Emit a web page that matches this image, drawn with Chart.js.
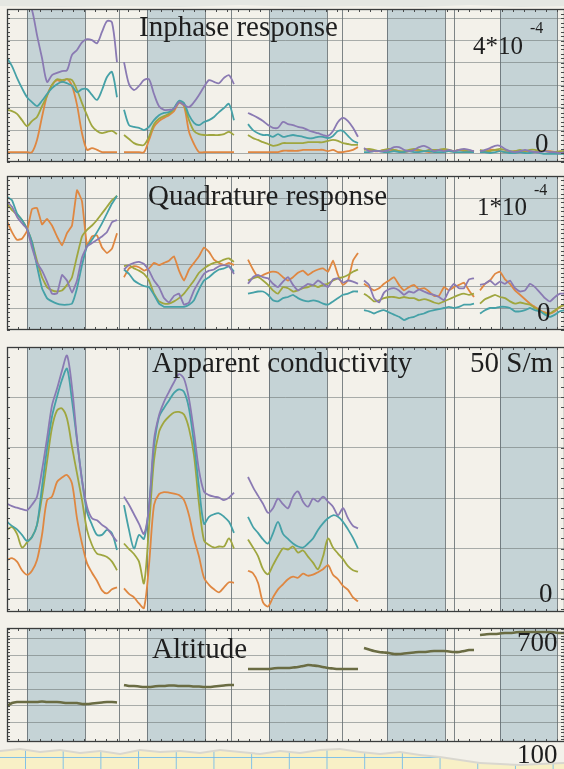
<!DOCTYPE html>
<html>
<head>
<meta charset="utf-8">
<title>Airborne EM profiles</title>
<script src="https://cdn.jsdelivr.net/npm/chart.js@4.4.1/dist/chart.umd.min.js"></script>
<style>
  html, body { margin: 0; padding: 0; }
  body { width: 564px; height: 769px; overflow: hidden; position: relative; background: #f3f1ea;
         font-family: "Liberation Serif", "Times New Roman", serif; }
  #sheet { position: absolute; left: 0; top: 0; width: 564px; height: 769px; }
  #sheet canvas { position: absolute; left: 0; }
  .lbl { position: absolute; line-height: 1; color: #1e1e1e; white-space: nowrap; }
  .sup { position: relative; line-height: 1; }
  #topEdge { position: absolute; left: 0; top: 0; width: 564px; height: 8px; background: #e5e7e2;
             clip-path: polygon(0 0, 564px 0, 564px 6px, 520px 7px, 470px 5px, 420px 7px, 360px 6px, 300px 7px,
             240px 5px, 180px 7px, 120px 6px, 60px 7px, 0 6px); }
  #tornShadow { position: absolute; left: 0; top: 744px; width: 564px; height: 25px; background: #d9d7cf;
             clip-path: polygon(0 6px, 20px 4px, 40px 7px, 60px 5px, 80px 8px, 100px 6px, 120px 9px, 140px 5px,
             160px 7px, 180px 6px, 200px 8px, 220px 5px, 240px 7px, 260px 9px, 280px 6px, 300px 8px, 320px 5px,
             340px 4px, 360px 7px, 380px 9px, 400px 7px, 420px 10px, 440px 12px, 460px 15px, 480px 18px,
             500px 19px, 520px 20px, 540px 19px, 564px 18px, 564px 25px, 0 25px); }
  #tornPaper { position: absolute; left: 0; top: 746px; width: 564px; height: 23px;
             background-color: #f8f0c6;
             background-image: linear-gradient(90deg, rgba(110,185,235,0.85) 1px, transparent 1px),
                               linear-gradient(180deg, rgba(110,185,235,0.85) 1px, transparent 1px);
             background-size: 37.7px 38px, 37.7px 38px;
             background-position: 25px 0, 0 11px;
             clip-path: polygon(0 6px, 20px 4px, 40px 7px, 60px 5px, 80px 8px, 100px 6px, 120px 9px, 140px 5px,
             160px 7px, 180px 6px, 200px 8px, 220px 5px, 240px 7px, 260px 9px, 280px 6px, 300px 8px, 320px 5px,
             340px 4px, 360px 7px, 380px 9px, 400px 7px, 420px 10px, 440px 12px, 460px 15px, 480px 18px,
             500px 19px, 520px 20px, 540px 19px, 564px 18px, 564px 23px, 0 23px); }
</style>
</head>
<body>
<div id="topEdge"></div>
<div id="tornShadow"></div>
<div id="tornPaper"></div>
<div id="sheet"></div>

<div class="lbl" style="left:139px;top:11.7px;font-size:29px">Inphase response</div>
<div class="lbl" style="left:473px;top:33px;font-size:25px">4*10<span class="sup" style="font-size:16px;top:-21px;margin-left:7px">-4</span></div>
<div class="lbl" style="left:535px;top:130px;font-size:27px">0</div>

<div class="lbl" style="left:148px;top:181px;font-size:29px">Quadrature response</div>
<div class="lbl" style="left:477px;top:194px;font-size:25px">1*10<span class="sup" style="font-size:16px;top:-20px;margin-left:7px">-4</span></div>
<div class="lbl" style="left:537px;top:299px;font-size:27px">0</div>

<div class="lbl" style="left:152px;top:348px;font-size:29px">Apparent conductivity</div>
<div class="lbl" style="left:470px;top:348px;font-size:29px">50 S/m</div>
<div class="lbl" style="left:539px;top:580px;font-size:27px">0</div>

<div class="lbl" style="left:152px;top:634px;font-size:29px">Altitude</div>
<div class="lbl" style="left:517px;top:629px;font-size:27px">700</div>
<div class="lbl" style="left:517px;top:741px;font-size:27px">100</div>

<script>
// ---- survey geometry (distance along profile, in fiducials) ----
const lineStart   = [0, 117, 241, 357, 473];   // first fiducial of each of the five flight lines
const sampleStep  = 5;                          // fiducials between samples
const dividers    = [20, 78, 112, 140, 198, 224, 262, 320, 335, 380, 438, 447, 493, 550];
const shadedBlocks = [[20, 78], [140, 198], [262, 320], [380, 438], [493, 550]];

// ---- horizontal grid levels of each panel ----
const inphaseGrid      = [0, 50, 100, 150, 200, 250, 300];   // ppm
const quadratureGrid   = [0, 20, 40, 60, 80, 100];           // ppm
const conductivityGrid = [0, 10, 20, 30, 40];                // S/m
const altitudeGrid     = [200, 300, 400, 500, 600, 700];     // m

// ---- inphase response (ppm), one sub-array per flight line ----
const inphasePurple = [
  [null, null, null, null, 340, 318, 262, 211, 158, 173, 178, 182, 184, 218, 229, 246, 253, 251, 244, 269, 293, 290, 202],
  [202, 153, 140, 149, 162, 164, 131, 104, 96, 96, 98, 113, 107, 102, 113, 129, 147, 162, 158, 155, 167, 173, 153],
  [89, 84, 78, 71, 62, 56, 56, 69, 64, 62, 58, 56, 51, 47, 44, 40, 38, 49, 69, 78, 71, 56, 36],
  [11, 4, 4, 4, 4, 7, 13, 13, 7, 4, 7, 13, 16, 11, 4, 7, 4, 7, 4, 7, 9, 7, 4],
  [4, 7, 11, 16, 16, 9, 4, 2, 4, 7, 4, 2, 2, 4, 2, 2, 0, 2]
];
const inphaseTeal = [
  [211, 193, 167, 144, 124, 113, 104, 116, 131, 144, 153, 158, 155, 149, 135, 142, 142, 129, 118, 140, 169, 180, 124],
  [96, 62, 58, 56, 51, 58, 73, 84, 89, 91, 100, 116, 111, 84, 67, 62, 69, 73, 80, 91, 100, 109, 73],
  [64, 51, 44, 40, 40, 36, 42, 36, 38, 40, 38, 36, 33, 33, 36, 36, 33, 38, 49, 49, 38, 27, 22],
  [2, 2, 4, 4, 2, 2, 4, 2, 2, 4, 2, 2, 4, 4, 2, 2, 2, 4, 2, 2, 2, 2, 2],
  [2, 2, 0, 2, 4, 2, 0, 0, 2, 0, 0, 2, 0, -2, -2, -2, -2, -2]
];
const inphaseOlive = [
  [96, 93, 87, 73, 60, 71, 80, 104, 127, 151, 164, 162, 164, 162, 140, 111, 84, 60, 49, 44, 47, 49, 42],
  [40, 31, 22, 18, 18, 36, 64, 76, 82, 87, 98, 113, 107, 73, 49, 42, 40, 40, 40, 40, 42, 47, 40],
  [40, 33, 29, 24, 20, 16, 18, 22, 22, 22, 22, 22, 24, 24, 24, 24, 27, 29, 27, 22, 20, 18, 18],
  [7, 9, 7, 4, 7, 9, 7, 4, 4, 7, 9, 7, 4, 7, 7, 7, 9, 7, 4, 7, 7, 4, 4],
  [7, 4, 4, 7, 9, 7, 4, 4, 7, 4, 7, 7, 4, 4, 2, 2, 4, 4]
];
const inphaseOrange = [
  [2, 2, 2, 2, 2, 2, 29, 80, 127, 151, 162, 158, 164, 149, 107, 44, 7, 11, 7, 2, 2, 2, 2],
  [2, 2, 2, 2, 2, 29, 58, 71, 78, 84, 93, 111, 104, 47, 20, 2, 2, 2, 2, 2, 2, 2, 2],
  [2, 2, 2, 2, 2, 2, 2, 5, 5, 5, 5, 7, 7, 7, 7, 7, 4, 7, 2, 2, 4, 7, 13],
  [9, 7, 4, 4, 7, 4, 7, 4, 2, 4, 7, 4, 4, 2, 4, 7, 7, 4, 4, 7, 4, 2, 4],
  [4, 4, 7, 7, 4, 2, 2, 4, 4, 4, 2, 2, 4, 4, 4, 2, 2, 2]
];

// ---- quadrature response (ppm) ----
const quadPurple = [
  [97, 92, 83, 77, 72, 55, 41, 34, 24, 13, 13, 30, 25, 14, 25, 46, 56, 59, 62, 65, 69, 78, 80],
  [35, 39, 41, 42, 40, 34, 25, 19, 9, 5, 11, 13, 3, 5, 16, 24, 31, 34, 35, 38, 39, 38, 31],
  [22, 28, 30, 28, 27, 22, 19, 24, 28, 21, 16, 19, 22, 21, 25, 22, 19, 26, 27, 23, 25, 24, 22],
  [25, 21, 9, 5, 14, 17, 18, 16, 12, 15, 14, 17, 15, 13, 12, 10, 7, 16, 22, 18, 18, 26, 27],
  [21, 22, 25, 21, 24, 22, 25, 18, 15, 16, 22, 19, 14, 9, 6, 10, 13, 13]
];
const quadTeal = [
  [101, 98, 86, 80, 72, 60, 38, 18, 9, 6, 4, 3, 3, 4, 18, 39, 56, 62, 69, 77, 86, 95, 102],
  [35, 31, 25, 22, 20, 19, 12, 4, 1, 1, 1, 1, 1, 3, 7, 17, 25, 28, 32, 35, 36, 38, 33],
  [13, 14, 15, 15, 12, 7, 6, 9, 10, 12, 9, 7, 6, 7, 6, 4, 3, 6, 9, 12, 13, 15, 15],
  [-2, -3, -5, -3, -2, -4, -6, -8, -11, -9, -8, -6, -5, -3, -2, -1, 0, 1, 0, 1, 3, 3, 4],
  [-5, -2, 0, 0, 1, 1, 0, -3, -3, -2, 0, -2, -3, -6, -8, -6, -3, -2]
];
const quadOlive = [
  [95, 89, 85, 80, 72, 60, 43, 28, 19, 16, 15, 16, 21, 28, 47, 65, 71, 75, 80, 86, 92, 98, 102],
  [38, 39, 36, 34, 31, 25, 13, 6, 4, 4, 6, 9, 13, 19, 25, 32, 36, 39, 41, 42, 44, 45, 42],
  [25, 27, 28, 25, 21, 16, 13, 19, 18, 15, 16, 18, 19, 21, 19, 21, 22, 25, 27, 28, 30, 33, 35],
  [13, 10, 6, 7, 9, 10, 10, 9, 10, 9, 9, 7, 8, 7, 5, 4, 6, 8, 10, 12, 13, 12, 13],
  [4, 8, 10, 12, 10, 9, 6, 4, 5, 4, 3, 0, -3, -5, -5, -2, 1, 3]
];
const quadOrange = [
  [79, 69, 62, 63, 70, 90, 91, 76, 81, 75, 65, 57, 68, 75, 107, 97, 57, 65, 66, 55, 50, 54, 68],
  [28, 36, 38, 37, 34, 36, 41, 39, 41, 43, 47, 34, 25, 35, 41, 47, 55, 51, 44, 41, 39, 41, 39],
  [44, 35, 28, 30, 32, 33, 32, 28, 25, 28, 32, 34, 30, 33, 35, 36, 33, 43, 30, 21, 25, 43, 50],
  [22, 19, 16, 18, 22, 25, 28, 21, 16, 19, 21, 17, 18, 15, 11, 11, 19, 16, 19, 21, 23, 16, 10],
  [16, 22, 25, 31, 33, 26, 22, 16, 12, 8, 4, 1, -2, -4, -5, -3, 1, 3]
];

// ---- apparent conductivity (S/m); lines 4 and 5 not inverted ----
const condPurple = [
  [18.9, 18.4, 18.1, 17.8, 17.6, 18.7, 20.3, 25.5, 31.8, 38.4, 41.7, 45.3, 48.3, 42.0, 31.8, 23.6, 18.3, 16.0, 15.6, 14.7, 14.0, 12.7, 11.4],
  [20.3, 18.7, 16.8, 14.9, 12.9, 18.3, 31.5, 36.4, 39.1, 41.1, 43.0, 44.6, 43.7, 39.7, 33.1, 25.5, 21.3, 20.6, 20.3, 20.1, 19.6, 20.1, 21.1],
  [24.2, 22.2, 20.5, 18.9, 17.1, 18.0, 19.9, 18.8, 18.0, 20.3, 21.3, 19.3, 18.3, 19.9, 19.3, 20.3, 19.3, 18.3, 16.6, 18.0, 16.0, 14.5, 14.0],
  null,
  null
];
const condTeal = [
  [15.3, 14.5, 13.8, 12.7, 11.5, 12.3, 14.7, 22.2, 29.8, 36.2, 40.1, 43.5, 45.7, 39.4, 31.5, 23.6, 17.3, 14.7, 12.7, 12.7, 13.7, 13.0, 9.7],
  [18.6, 13.7, 10.0, 12.7, 11.9, 18.3, 30.2, 36.1, 37.9, 39.4, 40.9, 41.6, 41.1, 37.8, 30.8, 22.2, 14.9, 16.3, 16.8, 17.0, 16.3, 15.3, 13.1],
  [16.3, 14.3, 13.1, 11.8, 11.0, 13.0, 15.3, 12.9, 11.9, 11.0, 10.4, 10.2, 11.0, 12.0, 13.7, 15.0, 16.0, 16.6, 16.3, 15.3, 13.8, 12.1, 10.0],
  null,
  null
];
const condOlive = [
  [13.7, 14.3, 12.9, 10.2, 11.2, 12.3, 14.7, 20.3, 27.2, 34.0, 37.4, 37.8, 35.8, 30.2, 24.9, 19.6, 13.7, 10.7, 9.0, 8.7, 8.3, 7.4, 5.7],
  [11.0, 9.9, 8.9, 7.4, 3.1, 14.3, 27.5, 33.1, 35.1, 36.2, 37.0, 37.1, 36.6, 33.8, 28.5, 18.9, 11.6, 10.7, 10.2, 10.4, 10.4, 12.0, 10.0],
  [11.8, 10.2, 8.5, 5.9, 4.9, 6.7, 8.5, 10.0, 9.8, 10.4, 9.2, 9.6, 8.4, 7.2, 5.9, 8.4, 12.0, 10.2, 9.0, 7.9, 6.5, 5.7, 5.4],
  null,
  null
];
const condOrange = [
  [7.7, 8.1, 7.4, 5.7, 4.8, 5.6, 7.7, 12.7, 19.6, 20.3, 23.2, 24.1, 24.6, 22.9, 16.0, 11.0, 7.1, 5.2, 3.6, 1.7, 1.1, 1.9, 2.3],
  [2.1, 1.0, 0.3, -0.9, -1.8, 6.7, 18.6, 20.8, 21.2, 21.1, 20.9, 20.6, 19.6, 16.6, 12.0, 8.4, 4.2, 2.8, 1.9, 1.3, 2.3, 3.3, 3.2],
  [5.6, 5.1, 3.2, -0.7, -1.5, 0.3, 1.9, 2.9, 3.9, 4.4, 4.2, 5.0, 4.6, 4.8, 5.3, 5.9, 6.7, 4.8, 3.9, 2.6, 1.8, 0.3, -0.5],
  null,
  null
];

// ---- sensor altitude (m) ----
const altitude = [
  [298, 316, 322, 322, 322, 322, 322, 325, 322, 322, 322, 319, 316, 316, 316, 310, 310, 313, 316, 319, 322, 322, 319],
  [424, 418, 418, 415, 412, 412, 415, 418, 418, 421, 421, 418, 418, 418, 415, 415, 412, 412, 415, 418, 421, 424, 424],
  [520, 520, 520, 520, 520, 523, 526, 526, 526, 529, 532, 538, 544, 541, 538, 532, 526, 523, 520, 520, 520, 520, 520],
  [646, 637, 628, 622, 619, 616, 610, 610, 613, 616, 619, 622, 622, 625, 628, 628, 628, 625, 622, 622, 628, 634, 634],
  [724, 727, 730, 730, 733, 736, 736, 739, 742, 742, 742, 742, 742, 742, 742, 739, 736, 736]
];

// ---- styling ----
const frequencyColors = ['#8a7ab3', '#45a1a7', '#9fa63f', '#df8741'];
const altitudeColor = '#6a6c43';
const paperColor = '#f3f1ea';
const blockColor = '#c5d3d6';

// Turn per-line sample arrays into {x, y} points, breaking the trace between lines.
function profile(lines) {
  const pts = [];
  lines.forEach((vals, i) => {
    if (!vals) return;
    vals.forEach((v, j) => pts.push({ x: lineStart[i] + j * sampleStep, y: v }));
    pts.push({ x: lineStart[i] + vals.length * sampleStep - 3, y: null });
  });
  return pts;
}

// Paper background and shaded survey blocks, under the grid.
const blocksPlugin = {
  id: 'blocks',
  beforeDraw(chart) {
    const { ctx, chartArea: a, scales: { x } } = chart;
    ctx.save();
    ctx.fillStyle = paperColor;
    ctx.fillRect(a.left, a.top, a.right - a.left, a.bottom - a.top);
    ctx.fillStyle = blockColor;
    shadedBlocks.forEach(([s, e]) => {
      const x0 = x.getPixelForValue(s), x1 = x.getPixelForValue(e);
      ctx.fillRect(x0, a.top, x1 - x0, a.bottom - a.top);
    });
    ctx.restore();
  }
};

// Panel frame with small tick marks along its edges.
const framePlugin = {
  id: 'frame',
  afterDatasetsDraw(chart) {
    const { ctx, chartArea: a, scales: { x, y } } = chart;
    const grid = chart.options.plugins.frame.grid;
    ctx.save();
    ctx.strokeStyle = '#4a4c4c';
    ctx.lineWidth = 1;
    ctx.beginPath();
    // minor ticks on left and right edges: five per grid interval
    const step = (grid[1] - grid[0]) / 5;
    for (let v = grid[0] - 10 * step; v <= y.max; v += step) {
      if (v < y.min) continue;
      const py = Math.round(y.getPixelForValue(v)) + 0.5;
      ctx.moveTo(a.left, py); ctx.lineTo(a.left + 3, py);
      ctx.moveTo(a.right, py); ctx.lineTo(a.right - 3, py);
    }
    // ticks on top and bottom edges
    for (let v = 0; v <= x.max; v += 11) {
      const px = Math.round(x.getPixelForValue(v)) + 0.5;
      ctx.moveTo(px, a.top); ctx.lineTo(px, a.top + 3);
      ctx.moveTo(px, a.bottom); ctx.lineTo(px, a.bottom - 3);
    }
    ctx.stroke();
    ctx.strokeStyle = '#3a3c3c';
    ctx.lineWidth = 1.3;
    ctx.strokeRect(Math.round(a.left) + 0.5, Math.round(a.top) + 0.5,
                   Math.round(a.right - a.left), Math.round(a.bottom - a.top) - 1);
    ctx.restore();
  }
};

const panels = [
  { top: 9,   bottom: 162, min: -20,  max: 320, grid: inphaseGrid, tension: 0.3,
    series: [inphasePurple, inphaseTeal, inphaseOlive, inphaseOrange] },
  { top: 176, bottom: 330, min: -20,  max: 120, grid: quadratureGrid, tension: 0.12,
    series: [quadPurple, quadTeal, quadOlive, quadOrange] },
  { top: 347, bottom: 612, min: -2.6, max: 50,  grid: conductivityGrid, tension: 0.3,
    series: [condPurple, condTeal, condOlive, condOrange] },
  { top: 628, bottom: 742, min: 82,   max: 766, grid: altitudeGrid, tension: 0.3,
    series: [altitude], colors: [altitudeColor], width: 2.6 }
];

const pad = 3;
const sheet = document.getElementById('sheet');
panels.forEach(p => {
  const c = document.createElement('canvas');
  const h = p.bottom - p.top + 2 * pad;
  c.width = 570; c.height = h;
  c.style.width = '570px'; c.style.height = h + 'px';
  c.style.top = (p.top - pad) + 'px';
  sheet.appendChild(c);

  const colors = p.colors || frequencyColors;
  new Chart(c, {
    type: 'line',
    data: {
      datasets: p.series.map((s, i) => ({
        data: profile(s),
        borderColor: colors[i],
        borderWidth: p.width || 1.8,
        pointRadius: 0,
        tension: p.tension,
        spanGaps: false,
        clip: 0
      }))
    },
    options: {
      responsive: false,
      animation: false,
      devicePixelRatio: 1,
      events: [],
      layout: { padding: { left: 7, right: 6, top: pad, bottom: pad } },
      plugins: { legend: { display: false }, tooltip: { enabled: false }, frame: { grid: p.grid } },
      scales: {
        x: {
          type: 'linear', min: 0, max: 557,
          ticks: { display: false },
          border: { display: false },
          grid: { drawTicks: false, color: 'rgba(85,95,100,0.75)', lineWidth: 1 },
          afterBuildTicks: ax => { ax.ticks = dividers.map(v => ({ value: v })); }
        },
        y: {
          type: 'linear', min: p.min, max: p.max,
          ticks: { display: false },
          border: { display: false },
          grid: { drawTicks: false, color: 'rgba(105,115,115,0.55)', lineWidth: 1 },
          afterBuildTicks: ax => { ax.ticks = p.grid.map(v => ({ value: v })); }
        }
      }
    },
    plugins: [blocksPlugin, framePlugin]
  });
});
</script>
</body>
</html>
